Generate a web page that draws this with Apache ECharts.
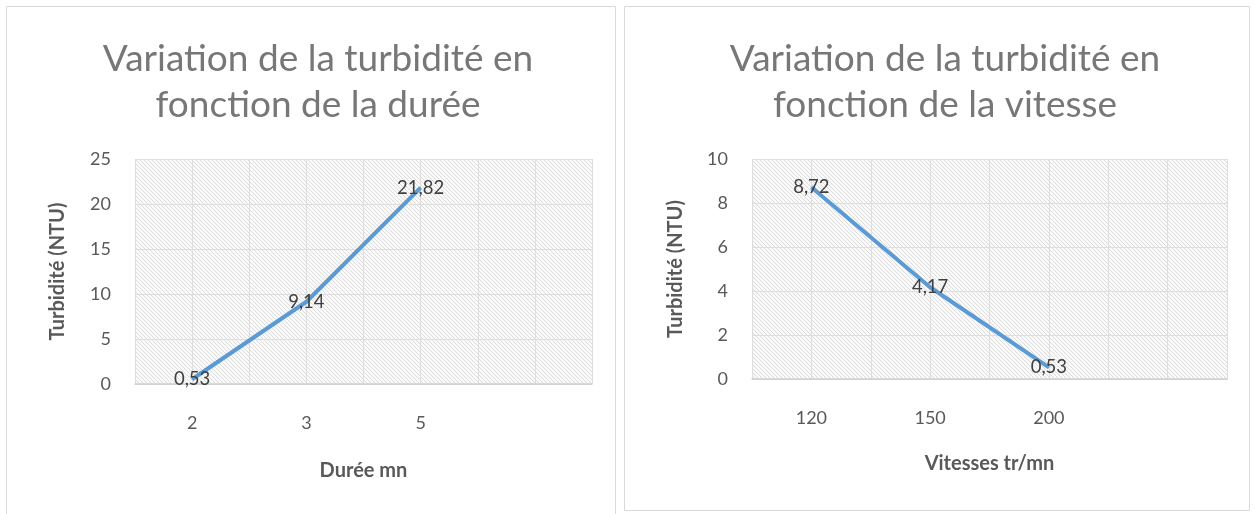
<!DOCTYPE html>
<html><head><meta charset="utf-8">
<script src="https://cdn.jsdelivr.net/npm/echarts@6/dist/echarts.min.js"></script>
<style>html,body{margin:0;padding:0;background:#fff}#c{width:1255px;height:514px}</style>
</head><body><div id="c"></div>
<script>
// ---- data ----
const dureeCategories = ['2', '3', '5', ''];
const dureeValues = [0.53, 9.14, 21.82];
const vitesseCategories = ['120', '150', '200', ''];
const vitesseValues = [8.72, 4.17, 0.53];
const leftTitle = 'Variation de la turbidité en\nfonction de la durée';
const rightTitle = 'Variation de la turbidité en\nfonction de la vitesse';
const yName = 'Turbidité (NTU)';
const leftXName = 'Durée mn';
const rightXName = 'Vitesses tr/mn';

// ---- hatch pattern ----
function hatch() {
  const s = 4;
  const c = document.createElement('canvas');
  c.width = s; c.height = s;
  const g = c.getContext('2d');
  g.fillStyle = '#fafafa'; g.fillRect(0, 0, s, s);
  g.strokeStyle = '#dcdcdc'; g.lineWidth = 1;
  g.beginPath();
  g.moveTo(-1, -1); g.lineTo(s + 1, s + 1);
  g.moveTo(-1, s - 1); g.lineTo(1, s + 1);
  g.moveTo(s - 1, -1); g.lineTo(s + 1, 1);
  g.stroke();
  return c;
}
const pattern = { image: hatch(), repeat: 'repeat' };

const font = 'Lato, "Open Sans", sans-serif';
const gridColor = '#dedede';

function catAxis(idx, cats, name, gap) {
  return {
    type: 'category', gridIndex: idx, data: cats, boundaryGap: true,
    axisLine: { show: true, lineStyle: { color: '#d0d0d0', width: 1.5 } },
    axisTick: { show: false },
    splitLine: { show: false },
    axisLabel: { color: '#595959', fontSize: 18, fontFamily: font, margin: 30, interval: 0 },
    name: name, nameLocation: 'middle', nameGap: gap,
    nameTextStyle: { color: '#595959', fontSize: 20, fontWeight: 'bold', fontFamily: font }
  };
}
function helperAxis(idx) {
  return {
    type: 'value', gridIndex: idx, min: 0, max: 8, interval: 1, position: 'top',
    axisLine: { show: false }, axisTick: { show: false }, axisLabel: { show: false },
    splitLine: { show: true, lineStyle: { color: gridColor, width: 1 } }
  };
}
function valAxis(idx, max, interval, gap) {
  return {
    type: 'value', gridIndex: idx, min: 0, max: max, interval: interval,
    axisLine: { show: false }, axisTick: { show: false },
    splitLine: { show: true, lineStyle: { color: gridColor, width: 1 } },
    axisLabel: { color: '#595959', fontSize: 18, fontFamily: font, margin: 24 },
    name: yName, nameLocation: 'middle', nameGap: gap, nameRotate: 90,
    nameTextStyle: { color: '#595959', fontSize: 20, fontWeight: 'bold', fontFamily: font }
  };
}
function lineSeries(xi, yi, vals) {
  return {
    type: 'line', xAxisIndex: xi, yAxisIndex: yi, data: vals,
    symbol: 'circle', symbolSize: 1, showSymbol: true,
    itemStyle: { color: '#5b9bd5' },
    lineStyle: { color: '#5b9bd5', width: 4 },
    label: {
      show: true, position: 'inside', color: '#404040', fontSize: 18.5, fontFamily: font,
      formatter: p => String(p.value).replace('.', ',')
    },
    emphasis: { disabled: true }, animation: false
  };
}

const chart = echarts.init(document.getElementById('c'), null, { renderer: 'canvas' });
const titleStyle = { color: '#777777', fontSize: 37, fontWeight: 'normal', fontFamily: font, lineHeight: 46 };
chart.setOption({
  animation: false,
  title: [
    { text: leftTitle, left: 313, top: 31, textAlign: 'center', textStyle: titleStyle },
    { text: rightTitle, left: 940, top: 31, textAlign: 'center', textStyle: titleStyle }
  ],
  graphic: [
    { type: 'rect', shape: { x: 6.5, y: 6.5, width: 609, height: 530 }, style: { fill: 'none', stroke: '#d9d9d9', lineWidth: 1 }, silent: true },
    { type: 'rect', shape: { x: 624.5, y: 6.5, width: 625, height: 504 }, style: { fill: 'none', stroke: '#d9d9d9', lineWidth: 1 }, silent: true }
  ],
  grid: [
    { left: 135, top: 159, width: 457, height: 225, show: true, backgroundColor: pattern, borderWidth: 0 },
    { left: 752, top: 159, width: 475, height: 220, show: true, backgroundColor: pattern, borderWidth: 0 }
  ],
  xAxis: [
    catAxis(0, dureeCategories, leftXName, 77),
    catAxis(1, vitesseCategories, rightXName, 75),
    helperAxis(0),
    helperAxis(1)
  ],
  yAxis: [
    valAxis(0, 25, 5, 67),
    valAxis(1, 10, 2, 66)
  ],
  series: [
    lineSeries(0, 0, dureeValues),
    lineSeries(1, 1, vitesseValues)
  ]
});
</script></body></html>
